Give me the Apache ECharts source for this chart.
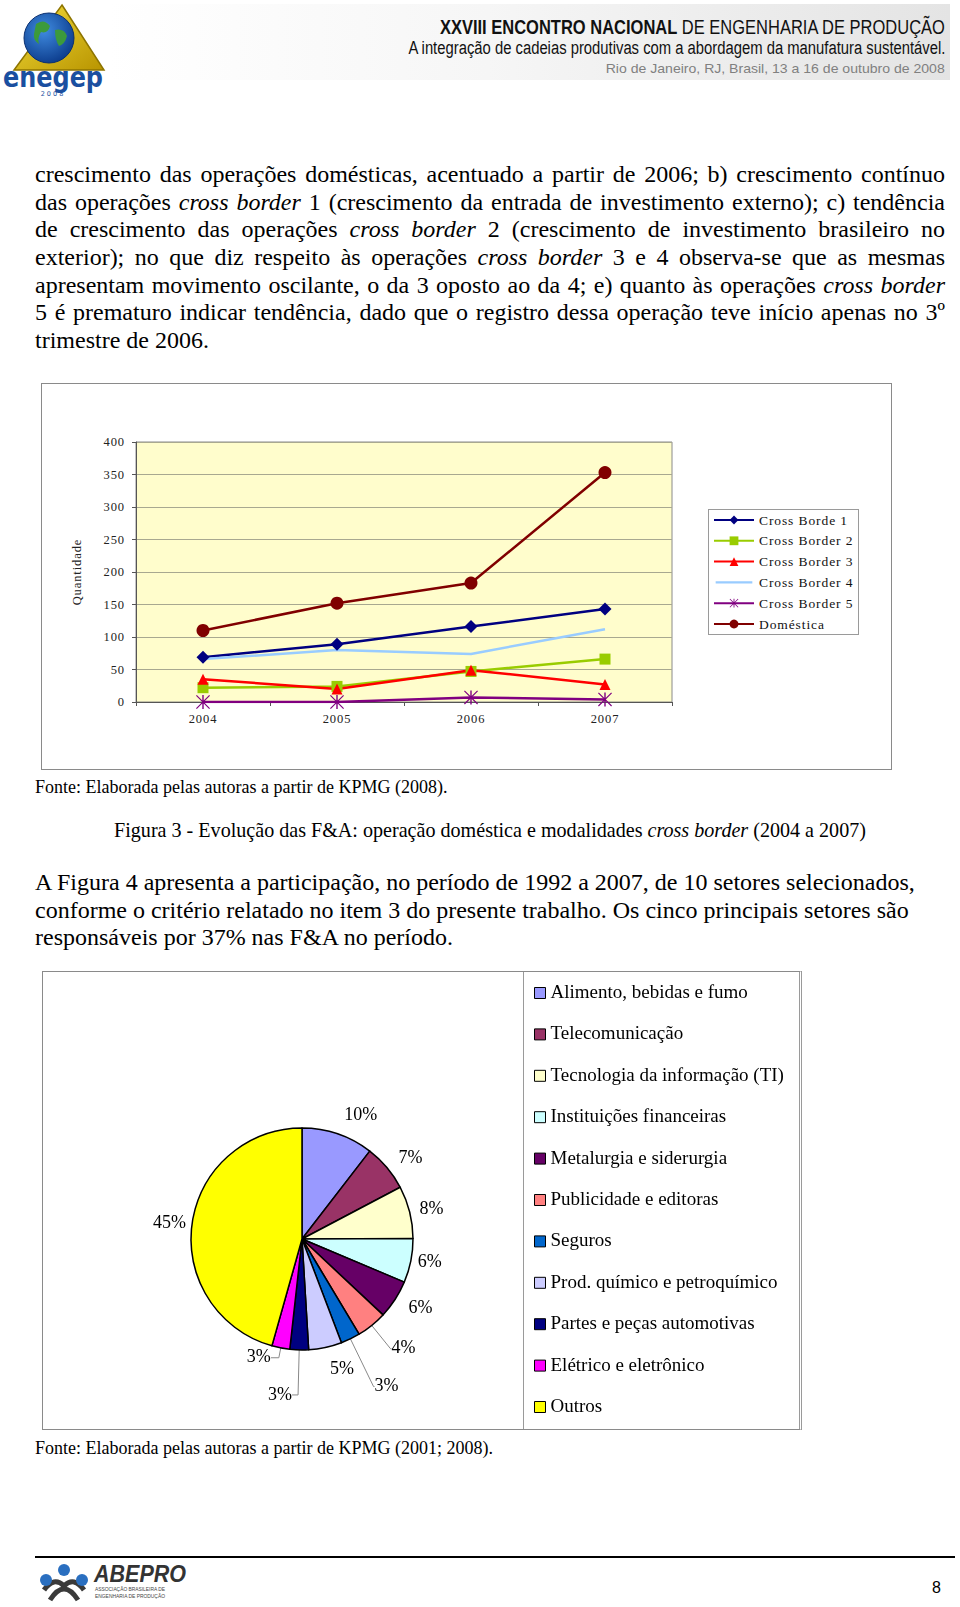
<!DOCTYPE html>
<html><head><meta charset="utf-8">
<script src="https://cdn.jsdelivr.net/npm/echarts/dist/echarts.min.js"></script>
<style>
html,body{margin:0;padding:0;background:#fff}
body{width:960px;height:1607px;position:relative;overflow:hidden;font-family:"Liberation Serif","Times New Roman",serif;color:#000}
.abs{position:absolute}
.para{position:absolute;left:35px;width:910px;font-size:24px;line-height:27.7px}
.para div{height:27.7px;white-space:nowrap}
.hl{position:absolute;right:15px;white-space:nowrap;font-family:"Liberation Sans Narrow","Arial Narrow","Liberation Sans",sans-serif;transform-origin:right center}
#lineChart text{letter-spacing:0.9px}
</style>
</head><body>
<script>
// ---------- data ----------
const years = ['2004', '2005', '2006', '2007'];
const crossBorder1 = [69, 89, 116, 143];
const crossBorder2 = [22, 24, 47, 66];
const crossBorder3 = [35, 20, 49, 27];
const crossBorder4 = [66, 80, 74, 112];
const crossBorder5 = [0, 0, 7, 4];
const domestica = [110, 152, 183, 353];
const lineSeriesNames = ['Cross Borde 1', 'Cross Border 2', 'Cross Border 3', 'Cross Border 4', 'Cross Border 5', 'Doméstica'];
const yAxisMin = 0, yAxisMax = 400, yAxisStep = 50;

const sectors = ['Alimento, bebidas e fumo', 'Telecomunicação', 'Tecnologia da informação (TI)', 'Instituições financeiras', 'Metalurgia e siderurgia', 'Publicidade e editoras', 'Seguros', 'Prod. químico e petroquímico', 'Partes e peças automotivas', 'Elétrico e eletrônico', 'Outros'];
const sectorShares = [10.4, 6.8, 7.6, 6.4, 5.6, 4.4, 2.8, 4.8, 2.7, 2.6, 45.4];

const para1Lines = [
 'crescimento das operações domésticas, acentuado a partir de 2006; b) crescimento contínuo',
 'das operações <i>cross border</i> 1 (crescimento da entrada de investimento externo); c) tendência',
 'de crescimento das operações <i>cross border</i> 2 (crescimento de investimento brasileiro no',
 'exterior); no que diz respeito às operações <i>cross border</i> 3 e 4 observa-se que as mesmas',
 'apresentam movimento oscilante, o da 3 oposto ao da 4; e) quanto às operações <i>cross border</i>',
 '5 é prematuro indicar tendência, dado que o registro dessa operação teve início apenas no 3º',
 'trimestre de 2006.'
];
const para2Lines = [
 'A Figura 4 apresenta a participação, no período de 1992 a 2007, de 10 setores selecionados,',
 'conforme o critério relatado no item 3 do presente trabalho. Os cinco principais setores são',
 'responsáveis por 37% nas F&amp;A no período.'
];
</script>

<!-- header -->
<div class="abs" style="left:108px;top:4px;width:842px;height:76px;background:linear-gradient(to right,#ffffff 0%,#f6f6f6 45%,#e4e4e4 100%)"></div>
<svg class="abs" style="left:0;top:0" width="110" height="100" viewBox="0 0 110 100">
 <defs>
  <linearGradient id="gold" x1="0" y1="0" x2="1" y2="1"><stop offset="0" stop-color="#f3dc3a"/><stop offset="1" stop-color="#b89400"/></linearGradient>
  <radialGradient id="globe" cx="0.4" cy="0.35" r="0.7"><stop offset="0" stop-color="#3f8be0"/><stop offset="1" stop-color="#0b3a8a"/></radialGradient>
 </defs>
 <polygon points="62,5 104,70 14,70" fill="url(#gold)" stroke="#8d7400" stroke-width="1.5"/>
 <circle cx="49" cy="38" r="25" fill="url(#globe)" stroke="#0a2f70" stroke-width="1"/>
 <path d="M36,24 q8,-6 14,2 q-2,8 -9,6 q-4,6 -2,12 q-6,-4 -5,-10 z" fill="#3c9a3c"/>
 <path d="M55,30 q9,-2 12,6 q-2,8 -8,10 q-4,-6 -4,-16 z" fill="#3c9a3c"/>
 <text x="53" y="87" text-anchor="middle" font-family="DejaVu Sans" font-weight="bold" font-size="29" fill="#1a4fa0" textLength="100" lengthAdjust="spacingAndGlyphs">enegep</text>
 <text x="53" y="96" text-anchor="middle" font-family="DejaVu Sans" font-size="6.5" fill="#1a4fa0" letter-spacing="2">2008</text>
</svg>
<div id="h1" class="hl" style="top:14px;font-size:21px;line-height:26px;color:#111"><b>XXVIII ENCONTRO NACIONAL</b> DE ENGENHARIA DE PRODUÇÃO</div>
<div id="h2" class="hl" style="top:37px;font-size:18px;line-height:22px;color:#111">A integração de cadeias produtivas com a abordagem da manufatura sustentável.</div>
<div id="h3" class="hl" style="top:60px;font-size:13.5px;line-height:17px;color:#808080;font-family:'Liberation Sans',sans-serif">Rio de Janeiro, RJ, Brasil, 13 a 16 de outubro de 2008</div>

<!-- paragraph 1 -->
<div id="p1" class="para" style="top:161px"></div>

<!-- line chart -->
<div class="abs" style="left:41px;top:383px;width:851px;height:387px;box-sizing:border-box;border:1px solid #8a8a8a"></div>
<div id="lineChart" class="abs" style="left:42px;top:384px;width:849px;height:385px"></div>
<div class="abs" style="left:708px;top:509px;width:151px;height:126px;box-sizing:border-box;border:1px solid #9a9a9a"></div>

<div class="abs" style="left:35px;top:776px;font-size:18px;line-height:22px">Fonte: Elaborada pelas autoras a partir de KPMG (2008).</div>
<div class="abs" style="left:35px;width:910px;top:818px;font-size:20.1px;line-height:24px;text-align:center">Figura 3 - Evolução das F&amp;A: operação doméstica e modalidades <i>cross border</i> (2004 a 2007)</div>

<!-- paragraph 2 -->
<div id="p2" class="para" style="top:869px"></div>

<!-- pie chart -->
<div class="abs" style="left:42px;top:971px;width:760px;height:459px;box-sizing:border-box;border:1px solid #8a8a8a;border-right:3px double #9a9a9a"></div>
<div id="pieChart" class="abs" style="left:43px;top:972px;width:756px;height:457px"></div>
<div class="abs" style="left:523px;top:972px;width:276px;height:457px;box-sizing:border-box;border-left:1px solid #9a9a9a"></div>

<div class="abs" style="left:35px;top:1437px;font-size:18px;line-height:22px">Fonte: Elaborada pelas autoras a partir de KPMG (2001; 2008).</div>

<!-- footer -->
<div class="abs" style="left:35px;top:1556px;width:920px;height:2px;background:#000"></div>
<svg class="abs" style="left:38px;top:1560px" width="160" height="44" viewBox="0 0 160 44">
 <path d="M6,30 q10,-14 20,-4 q10,-10 20,4" fill="none" stroke="#3a3a3a" stroke-width="5"/>
 <path d="M12,40 q14,-22 28,0" fill="none" stroke="#3a3a3a" stroke-width="5"/>
 <circle cx="8" cy="20" r="6" fill="#2a6fc0"/>
 <circle cx="26" cy="10" r="6" fill="#2a6fc0"/>
 <circle cx="44" cy="20" r="6" fill="#2a6fc0"/>
 <text x="56" y="22" font-family="Liberation Sans Narrow,Liberation Sans" font-style="italic" font-weight="bold" font-size="24" fill="#333" textLength="92" lengthAdjust="spacingAndGlyphs">ABEPRO</text>
 <text x="57" y="31" font-family="Liberation Sans" font-size="5" fill="#444" textLength="70" lengthAdjust="spacingAndGlyphs">ASSOCIAÇÃO BRASILEIRA DE</text>
 <text x="57" y="38" font-family="Liberation Sans" font-size="5" fill="#444" textLength="70" lengthAdjust="spacingAndGlyphs">ENGENHARIA DE PRODUÇÃO</text>
</svg>
<div class="abs" style="left:932px;top:1578px;font-family:'Liberation Sans',sans-serif;font-size:16px;line-height:20px">8</div>

<script>
// text layout helpers
function buildPara(id, lines, justify){
  const box = document.getElementById(id);
  const W = 910;
  lines.forEach((html, i) => {
    const d = document.createElement('div');
    const s = document.createElement('span');
    s.innerHTML = html;
    d.appendChild(s);
    box.appendChild(d);
    if (justify && i < lines.length - 1) {
      const w = s.getBoundingClientRect().width;
      const n = (s.textContent.match(/ /g) || []).length;
      if (n) s.style.wordSpacing = ((W - w) / n) + 'px';
    }
  });
}
buildPara('p1', para1Lines, true);
buildPara('p2', para2Lines, false);

function fitWidth(id, target){
  const el = document.getElementById(id);
  const w = el.getBoundingClientRect().width;
  el.style.transform = 'scaleX(' + (target / w) + ')';
}
fitWidth('h1', 505); fitWidth('h2', 537); fitWidth('h3', 339);

// ---------- line chart ----------
const serif = 'Liberation Serif';
const lineChart = echarts.init(document.getElementById('lineChart'), null, {renderer: 'svg'});
const asterisk = 'path://M9,0H11V20H9Z M0,1.2L1.2,0L20,18.8L18.8,20Z M18.8,0L20,1.2L1.2,20L0,18.8Z';
const plainLineIcon = 'path://M0,0L0.01,0Z M0,12L0.01,12Z M0,4.8H40V7.2H0Z';
const lineDefs = [
  {data: crossBorder1, color: '#000080', symbol: 'diamond', size: 13},
  {data: crossBorder2, color: '#99CC00', symbol: 'rect', size: 11},
  {data: crossBorder3, color: '#FF0000', symbol: 'triangle', size: 11},
  {data: crossBorder4, color: '#99CCFF', symbol: 'none', size: 0},
  {data: crossBorder5, color: '#800080', symbol: asterisk, size: 14},
  {data: domestica, color: '#800000', symbol: 'circle', size: 13}
];
lineChart.setOption({
  animation: false,
  textStyle: {fontFamily: serif},
  grid: {left: 94, top: 58, width: 536, height: 260, show: true, backgroundColor: '#FFFDCC', borderColor: '#8a8a8a', borderWidth: 1},
  legend: {
    orient: 'vertical', left: 671, top: 129, itemWidth: 40, itemHeight: 11, itemGap: 6.8,
    padding: 0,
    textStyle: {fontFamily: serif, fontSize: 13.5, color: '#111', lineHeight: 14},
    data: lineSeriesNames.map((n, i) => lineDefs[i].symbol === 'none' ? {name: n, icon: plainLineIcon} : {name: n})
  },
  xAxis: {
    type: 'category', data: years, boundaryGap: true,
    axisLine: {lineStyle: {color: '#555', width: 1}},
    axisTick: {show: true, length: 4, lineStyle: {color: '#555'}},
    axisLabel: {fontFamily: serif, fontSize: 12.5, color: '#222', margin: 10}
  },
  yAxis: {
    type: 'value', min: yAxisMin, max: yAxisMax, interval: yAxisStep,
    name: 'Quantidade', nameLocation: 'middle', nameGap: 53, nameRotate: 90,
    nameTextStyle: {fontFamily: serif, fontSize: 12.5, color: '#222'},
    axisLine: {show: true, lineStyle: {color: '#555', width: 1}},
    axisTick: {show: true, length: 4, lineStyle: {color: '#555'}},
    splitLine: {lineStyle: {color: '#a8a890', width: 1}},
    axisLabel: {fontFamily: serif, fontSize: 12.5, color: '#222', margin: 11}
  },
  series: lineDefs.map((d, i) => ({
    name: lineSeriesNames[i], type: 'line', data: d.data,
    symbol: d.symbol, symbolSize: d.size, showSymbol: d.symbol !== 'none',
    lineStyle: {color: d.color, width: 2.5},
    itemStyle: {color: d.color, borderWidth: 0},
    emphasis: {disabled: true}
  }))
});

// ---------- pie chart ----------
const pieColors = ['#9999FF', '#993366', '#FFFFCC', '#CCFFFF', '#660066', '#FF8080', '#0066CC', '#CCCCFF', '#000080', '#FF00FF', '#FFFF00'];
// label leader styling per slice: [show leader, length, length2]
const pieLabelStyle = [
  [false, 20, 0], [false, 15, 0], [false, 10, 0], [false, 7, 0], [false, 16, 0],
  [true, 30, 1], [true, 53, 1], [false, 22, 0], [true, 45, 6], [true, 10, 8], [false, 4, 2]
];
const pieChart = echarts.init(document.getElementById('pieChart'));
pieChart.setOption({
  animation: false,
  textStyle: {fontFamily: serif},
  legend: {
    orient: 'vertical', left: 491, top: 11, itemWidth: 11, itemHeight: 11, itemGap: 21.4,
    icon: 'rect', padding: 0,
    itemStyle: {borderColor: '#000', borderWidth: 1},
    textStyle: {fontFamily: serif, fontSize: 19, color: '#000', lineHeight: 20, padding: [0, 0, 0, 0]},
    data: sectors
  },
  series: [{
    type: 'pie', center: [259, 267], radius: 111, startAngle: 90, clockwise: true,
    avoidLabelOverlap: false,
    itemStyle: {borderColor: '#000', borderWidth: 1.5},
    label: {show: true, position: 'outside', distanceToLabelLine: 0, fontFamily: serif, fontSize: 18, color: '#000',
      formatter: p => Math.round(p.value) + '%'},
    labelLine: {length: 10, length2: 5, lineStyle: {color: '#888', width: 1}},
    emphasis: {disabled: true},
    data: sectors.map((s, i) => ({name: s, value: sectorShares[i], itemStyle: {color: pieColors[i]},
      labelLine: {show: pieLabelStyle[i][0], length: pieLabelStyle[i][1], length2: pieLabelStyle[i][2]}}))
  }]
});
</script>
</body></html>
